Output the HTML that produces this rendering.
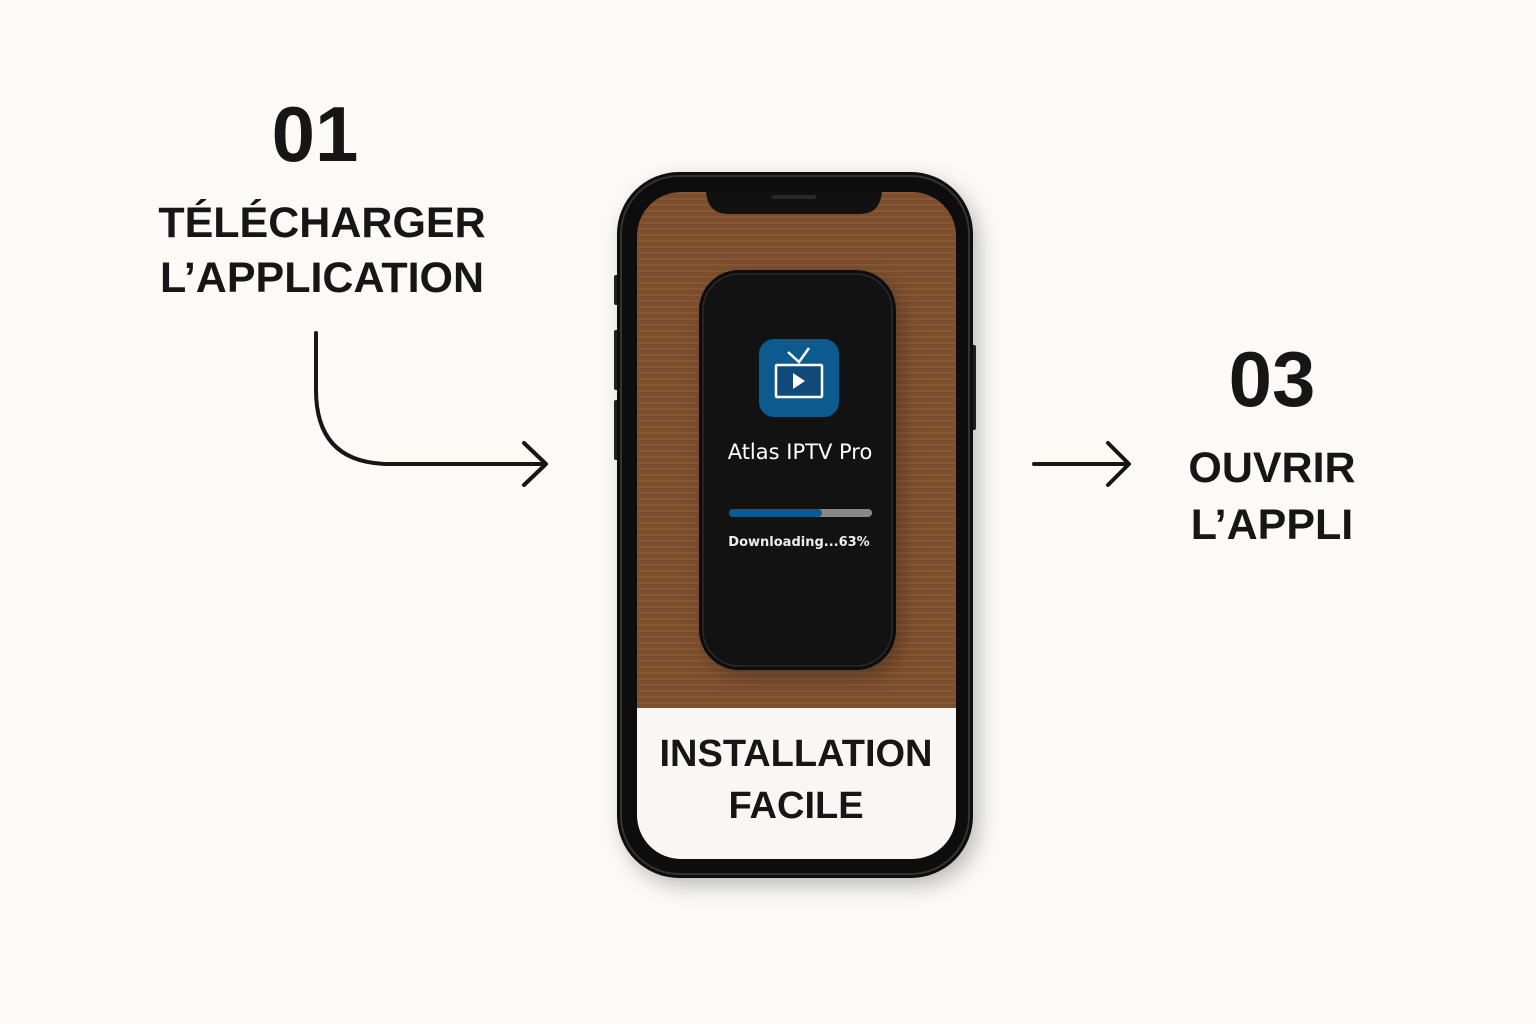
<!DOCTYPE html>
<html><head><meta charset="utf-8"><style>
body{margin:0;width:1536px;height:1024px;background:#fbfaf7;position:relative;overflow:hidden;font-family:"Liberation Sans",sans-serif}
.t{position:absolute;font-weight:bold;color:#161616;text-align:center;white-space:nowrap}
</style></head><body>
<div class="t" style="left:215px;width:200px;top:92px;font-size:78px;line-height:84px">01</div>
<div class="t" style="left:122px;width:400px;top:196px;font-size:43px;line-height:55px">TÉLÉCHARGER<br>L’APPLICATION</div>
<div class="t" style="left:1172px;width:200px;top:337px;font-size:78px;line-height:84px">03</div>
<div class="t" style="left:1122px;width:300px;top:440px;font-size:43px;line-height:57px">OUVRIR<br>L’APPLI</div>
<svg width="1536" height="1024" style="position:absolute;left:0;top:0">
<defs>
<linearGradient id="w" x1="0" y1="0" x2="0" y2="1">
<stop offset="0" stop-color="#8a5a36"/><stop offset="1" stop-color="#7a4c2c"/></linearGradient>
<pattern id="g" width="320" height="6" patternUnits="userSpaceOnUse"><rect width="320" height="6" fill="url(#w)"/><rect y="2" width="320" height="1.5" fill="#6a4024" opacity=".35"/></pattern>
<filter id="s" x="-20%" y="-20%" width="140%" height="140%"><feDropShadow dx="6" dy="8" stdDeviation="10" flood-opacity=".25"/></filter>
</defs>
<path d="M316 333 V390 Q316 464 390 464 H545" fill="none" stroke="#161616" stroke-width="4" stroke-linecap="round"/>
<path d="M524 443 L546 464 L524 485" fill="none" stroke="#161616" stroke-width="4" stroke-linecap="round" stroke-linejoin="round"/>
<path d="M1034 464 H1128" fill="none" stroke="#161616" stroke-width="4" stroke-linecap="round"/>
<path d="M1108 443 L1129 464 L1108 485" fill="none" stroke="#161616" stroke-width="4" stroke-linecap="round" stroke-linejoin="round"/>
<rect x="614" y="275" width="5" height="30" rx="2" fill="#222"/>
<rect x="614" y="330" width="5" height="60" rx="2" fill="#222"/>
<rect x="614" y="400" width="5" height="60" rx="2" fill="#222"/>
<rect x="971" y="345" width="5" height="85" rx="2" fill="#222"/>
<rect x="617" y="172" width="356" height="706" rx="62" fill="#111" filter="url(#s)"/>
<rect x="621" y="176" width="348" height="698" rx="58" fill="none" stroke="#333" stroke-width="2"/>
<clipPath id="c"><rect x="637" y="192" width="319" height="667" rx="44"/></clipPath>
<g clip-path="url(#c)">
<rect x="637" y="192" width="319" height="518" fill="url(#g)"/>
<rect x="637" y="708" width="319" height="160" fill="#f8f7f3"/>
</g>
<path d="M706 192 H882 Q880 214 860 214 H728 Q708 214 706 192Z" fill="#111"/>
<rect x="772" y="195" width="44" height="4" rx="2" fill="#2a2a2a"/>
<rect x="699" y="270" width="197" height="400" rx="40" fill="#0d0d0d" filter="url(#s)"/>
<rect x="703" y="274" width="189" height="392" rx="36" fill="#121212" stroke="#2a2a2a" stroke-width="1.5"/>
<rect x="759" y="339" width="80" height="78" rx="15" fill="#0d5a8e"/>
<rect x="776" y="365" width="46" height="32" rx="1" fill="#114a78" stroke="#fff" stroke-width="2.5"/>
<path d="M788 352 L799 362 L809 348" fill="none" stroke="#fff" stroke-width="2.5"/>
<path d="M793 373 L805 381 L793 389Z" fill="#fff"/>
<text x="800" y="459" text-anchor="middle" font-family="DejaVu Sans,sans-serif" font-size="21" fill="#fff">Atlas IPTV Pro</text>
<rect x="729" y="509" width="143" height="8" rx="4" fill="#888"/>
<rect x="729" y="509" width="93" height="8" rx="4" fill="#0d5a8e"/>
<text x="799" y="546" text-anchor="middle" font-family="DejaVu Sans,sans-serif" font-weight="bold" font-size="13" fill="#eee">Downloading...63%</text>
<text x="796" y="766" text-anchor="middle" font-weight="bold" font-size="38" fill="#161616">INSTALLATION</text>
<text x="796" y="818" text-anchor="middle" font-weight="bold" font-size="38" fill="#161616">FACILE</text>
</svg>
</body></html>
